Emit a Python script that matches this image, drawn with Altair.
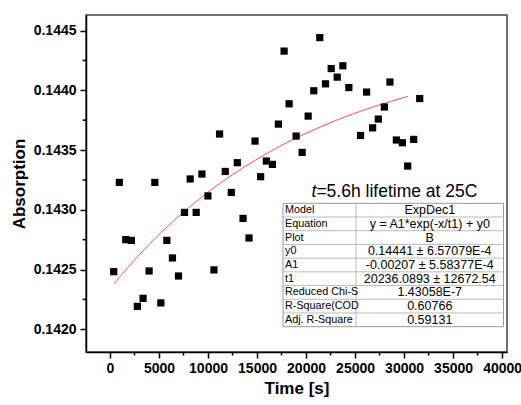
import altair as alt
import pandas as pd

# ---- data ----
time_s = [378, 951, 1605, 2178, 2791, 3374, 3988, 4571, 5184, 5798, 6370, 6984,
          7597, 8180, 8793, 9376, 9990, 10603, 11176, 11759, 12372, 12986, 13569,
          14182, 14796, 15368, 15951, 16564, 17178, 17761, 18272, 18988, 19601,
          20215, 20787, 21401, 21984, 22566, 23180, 23753, 24366, 25562, 26176,
          26789, 27372, 27986, 28558, 29213, 29826, 30368, 30982, 31595]
absorb = [0.142482, 0.143229, 0.142750, 0.142744, 0.142192, 0.142259, 0.142488,
          0.143229, 0.142221, 0.142744, 0.142597, 0.142446, 0.142978, 0.143258,
          0.142978, 0.143299, 0.143116, 0.142497, 0.143634, 0.143321, 0.143145,
          0.143394, 0.142928, 0.142764, 0.143575, 0.143277, 0.143408, 0.143380,
          0.143717, 0.144328, 0.143887, 0.143617, 0.143480, 0.143784, 0.143996,
          0.144441, 0.144054, 0.144182, 0.144110, 0.144205, 0.144023, 0.143622,
          0.143985, 0.143686, 0.143759, 0.143860, 0.144069, 0.143584, 0.143561,
          0.143366, 0.143589, 0.143931]

fit_x = [378, 3000, 6000, 9000, 12000, 15000, 18000, 21000, 24000, 27000, 30400]
fit_y = [0.142378, 0.142625, 0.142871, 0.143083, 0.143266, 0.143424, 0.143560,
         0.143677, 0.143778, 0.143865, 0.143949]

x_major = [0, 5000, 10000, 15000, 20000, 25000, 30000, 35000, 40000]
x_minor = [2500, 7500, 12500, 17500, 22500, 27500, 32500, 37500]
y_major = [0.1420, 0.1425, 0.1430, 0.1435, 0.1440, 0.1445]
y_minor = [0.14225, 0.14275, 0.14325, 0.14375, 0.14425]

table_keys = ["Model", "Equation", "Plot", "y0", "A1", "t1",
              "Reduced Chi-S", "R-Square(COD", "Adj. R-Square"]
table_vals = ["ExpDec1", "y = A1*exp(-x/t1) + y0", "B",
              "0.14441 \u00b1 6.57079E-4", "-0.00207 \u00b1 5.58377E-4",
              "20236.0893 \u00b1 12672.54", "1.43058E-7", "0.60766", "0.59131"]
note_italic = "t"
note_rest = "=5.6h lifetime at 25C"

# ---- layout ----
W, H = 421, 337
FONT = "Liberation Sans"
TL, TDIV, TR, TT, TB = 197, 270, 417.5, 188.3, 311.7

xscale = alt.Scale(domain=[-2450, 40500], nice=False, zero=False)
yscale = alt.Scale(domain=[0.14181, 0.14463], nice=False, zero=False)

pts = pd.DataFrame({"t": time_s, "a": absorb})
fit = pd.DataFrame({"t": fit_x, "a": fit_y})

points = alt.Chart(pts).mark_square(size=52, color="black", opacity=1).encode(
    x=alt.X("t:Q", scale=xscale, title="Time [s]",
            axis=alt.Axis(values=x_major, format="d", grid=False)),
    y=alt.Y("a:Q", scale=yscale, title="Absorption",
            axis=alt.Axis(values=y_major, format=".4f", grid=False)),
)

curve = alt.Chart(fit).mark_line(color="#ff4d4d", strokeWidth=1,
                                 interpolate="monotone").encode(
    x=alt.X("t:Q", scale=xscale),
    y=alt.Y("a:Q", scale=yscale),
)

ymin = alt.Chart(pd.DataFrame({"v": y_minor})).mark_rule(
    color="black", strokeWidth=1.5).encode(
    y=alt.Y("v:Q", scale=yscale), x=alt.value(0), x2=alt.value(-3.5))

xmin = alt.Chart(pd.DataFrame({"v": x_minor})).mark_rule(
    color="black", strokeWidth=1.5).encode(
    x=alt.X("v:Q", scale=xscale), y=alt.value(H), y2=alt.value(H + 3.5))

note1 = alt.Chart(pd.DataFrame({"s": [note_italic]})).mark_text(
    font=FONT, fontSize=17.5, fontStyle="italic", align="left",
    baseline="alphabetic", color="black").encode(
    text="s:N", x=alt.value(225.5), y=alt.value(182))
note2 = alt.Chart(pd.DataFrame({"s": [note_rest]})).mark_text(
    font=FONT, fontSize=17.5, align="left", baseline="alphabetic",
    color="black").encode(
    text="s:N", x=alt.value(230.4), y=alt.value(182))

main = alt.layer(curve, points, ymin, xmin, note1, note2)

# ---- fit-result table ----
tscale = alt.Scale(domain=[0, len(table_keys)], range=[TT, TB], nice=False, zero=False)
tdf = pd.DataFrame({"r": [i + 0.5 for i in range(len(table_keys))],
                    "k": table_keys, "v": table_vals})
ldf = pd.DataFrame({"r": list(range(1, len(table_keys)))})

bg = alt.Chart(pd.DataFrame({"d": [0]})).mark_rect(
    fill="white", stroke="#999999", strokeWidth=1).encode(
    x=alt.value(TL), x2=alt.value(TR), y=alt.value(TT), y2=alt.value(TB))
hl = alt.Chart(ldf).mark_rule(color="#bbbbbb", strokeWidth=1).encode(
    y=alt.Y("r:Q", scale=tscale, axis=None), x=alt.value(TL), x2=alt.value(TR))
vl = alt.Chart(pd.DataFrame({"d": [0]})).mark_rule(
    color="#bbbbbb", strokeWidth=1).encode(
    x=alt.value(TDIV), y=alt.value(TT), y2=alt.value(TB))
ltxt = alt.Chart(tdf).mark_text(font=FONT, fontSize=10.8, align="left",
                                baseline="middle", color="black").encode(
    y=alt.Y("r:Q", scale=tscale, axis=None), x=alt.value(TL + 2), text="k:N")
rtxt = alt.Chart(tdf).mark_text(font=FONT, fontSize=12.5, align="center",
                                baseline="middle", color="black").encode(
    y=alt.Y("r:Q", scale=tscale, axis=None), x=alt.value((TDIV + TR) / 2),
    text="v:N")

table = alt.layer(bg, hl, vl, ltxt, rtxt)

chart = alt.layer(main, table).resolve_scale(y="independent").properties(
    width=W, height=H, autosize="none",
    padding={"left": 86, "top": 15, "right": 14, "bottom": 53},
    background="white",
).configure_view(stroke="#444444", strokeWidth=1.5).configure_axis(
    domainColor="black", domainWidth=1.5, tickColor="black", tickWidth=1.5,
    tickSize=6, labelFont=FONT, labelFontSize=14, labelFontWeight="bold",
    labelColor="black", titleFont=FONT, titleFontSize=17, titleFontWeight="bold",
    titleColor="black",
).configure_axisY(labelPadding=4, titlePadding=5).configure_axisX(
    labelPadding=3, titlePadding=5)

chart.save("out.html", embed_options={"renderer": "svg", "actions": False})
